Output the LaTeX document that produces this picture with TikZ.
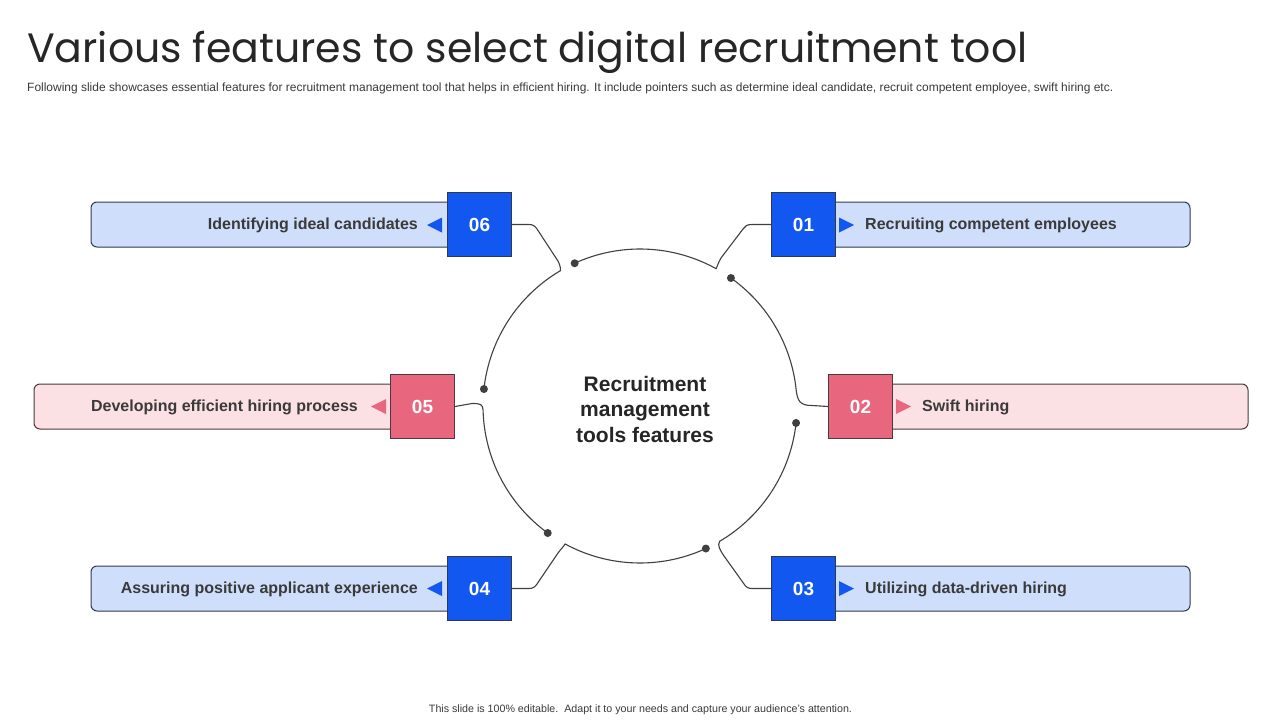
\documentclass[tikz,border=0pt]{standalone}
\usepackage{fontspec}
\setmainfont{Liberation Sans}
\newfontfamily\titlefont{Poppins}
\usetikzlibrary{calc}
\definecolor{sqblue}{HTML}{1258F0}
\definecolor{barblue}{HTML}{CFDFFB}
\definecolor{sqpink}{HTML}{E8677F}
\definecolor{barpink}{HTML}{FBE0E4}
\definecolor{edgeblue}{HTML}{2E3A4E}
\definecolor{edgepink}{HTML}{4A3A3E}
\definecolor{txt}{HTML}{3A3A3A}
\definecolor{wire}{HTML}{404040}
\tikzset{
  barb/.style={draw=edgeblue, fill=barblue, rounded corners=6, line width=1},
  barp/.style={draw=edgepink, fill=barpink, rounded corners=6, line width=1},
  sqb/.style={draw=edgeblue, fill=sqblue, minimum size=64, inner sep=0, line width=1,
    text=white, font=\fontsize{19}{22}\selectfont\bfseries},
  sqp/.style={draw=edgepink, fill=sqpink, minimum size=64, inner sep=0, line width=1,
    text=white, font=\fontsize{19}{22}\selectfont\bfseries},
  lbl/.style={text=txt, font=\fontsize{16}{19}\selectfont\bfseries, inner sep=0},
  dotn/.style={circle, fill=wire, minimum size=8, inner sep=0},
  wireln/.style={draw=wire, line width=1.1},
}
\begin{document}
\begin{tikzpicture}[x=1pt, y=1pt]
\path[use as bounding box, fill=white] (0,0) rectangle (1280,-720);

% title and texts
\node[anchor=base west, inner sep=0, text=black!85] (title) at (27,-62)
  {\titlefont\fontsize{41}{48}\selectfont Various features to select digital recruitment tool};
\node[anchor=base west, inner sep=0, text=txt] (sub) at (27,-91)
  {\resizebox{1086pt}{!}{\fontsize{11}{13}\selectfont Following slide showcases essential features for recruitment management tool that helps in efficient hiring. It include pointers such as determine ideal candidate, recruit competent employee, swift hiring etc.}};
\node[anchor=base, inner sep=0, text=txt] (foot) at (640.5,-712)
  {\resizebox{423pt}{!}{\fontsize{10}{12}\selectfont This slide is 100\% editable.\ \ Adapt it to your needs and capture your audience's attention.}};

% bars
\path[barb] (800,-202) rectangle (1190,-247);
\path[barp] (860,-384) rectangle (1248,-429);
\path[barb] (800,-566) rectangle (1190,-611);
\path[barb] (91,-202) rectangle (480,-247);
\path[barp] (34,-384) rectangle (420,-429);
\path[barb] (91,-566) rectangle (480,-611);

% squares
\node[sqb] (b01) at (803.5,-224.5) {01};
\node[sqp] (b02) at (860.5,-406.5) {02};
\node[sqb] (b03) at (803.5,-588.5) {03};
\node[sqb] (b04) at (479.5,-588.5) {04};
\node[sqp] (b05) at (422.5,-406.5) {05};
\node[sqb] (b06) at (479.5,-224.5) {06};

% triangles
\fill[sqblue] (839,-217.5) -- (854,-225) -- (839,-232.5) -- cycle;
\fill[sqpink] (896,-399) -- (911,-406.5) -- (896,-414) -- cycle;
\fill[sqblue] (839,-581) -- (854,-588.5) -- (839,-596) -- cycle;
\fill[sqblue] (442,-217.5) -- (427,-225) -- (442,-232.5) -- cycle;
\fill[sqpink] (386,-399) -- (371,-406.5) -- (386,-414) -- cycle;
\fill[sqblue] (442,-581) -- (427,-588.5) -- (442,-596) -- cycle;

% labels
\node[lbl, anchor=west] (t01) at (865,-225.5) {Recruiting competent employees};
\node[lbl, anchor=west] (t02) at (922,-407.5) {Swift hiring};
\node[lbl, anchor=west] (t03) at (865,-589.5) {Utilizing data-driven hiring};
\node[lbl, anchor=east] (t06) at (418,-225.5) {Identifying ideal candidates};
\node[lbl, anchor=east] (t05) at (358,-407.5) {Developing efficient hiring process};
\node[lbl, anchor=east] (t04) at (418,-589.5) {Assuring positive applicant experience};

% circle
\coordinate (C) at (640,-406);
\node[align=center, text=black!85, font=\fontsize{21}{25.5}\selectfont\bfseries] (center) at (645,-409)
  {Recruitment\\management\\tools features};

\node[dotn] (d1) at ($(C)+(114.6:157)$) {};
\node[dotn] (d2) at ($(C)+(54.6:157)$) {};
\node[dotn] (d3) at ($(C)+(-6.2:157)$) {};
\node[dotn] (d4) at ($(C)+(-65.2:157)$) {};
\node[dotn] (d5) at ($(C)+(-126:157)$) {};
\node[dotn] (d6) at ($(C)+(173.8:157)$) {};

\draw[wireln] (d1.center) arc[start angle=114.6, end angle=61, radius=157]
  .. controls (717,-267) and (718.5,-262) .. (721,-258) -- (743,-229)
  .. controls (745,-226) and (747,-224.5) .. (752,-224.5) -- (b01.west);
\draw[wireln] (d2.center) arc[start angle=54.6, end angle=5.8, radius=157]
  .. controls (797.5,-401) and (800,-405.5) .. (812,-405.5) -- (b02.west);
\draw[wireln] (d3.center) arc[start angle=-6.2, end angle=-59.5, radius=157]
  .. controls (717,-545) and (720,-550) .. (724,-556) -- (744,-584)
  .. controls (746,-587) and (748,-588.5) .. (752,-588.5) -- (b03.west);
\draw[wireln] (d4.center) arc[start angle=-65.2, end angle=-118.5, radius=157]
  .. controls (564,-546) and (561,-549) .. (558,-553) -- (537,-584)
  .. controls (535,-587) and (533,-588.5) .. (529,-588.5) -- (b04.east);
\draw[wireln] (d5.center) arc[start angle=-126, end angle=-178.5, radius=157]
  .. controls (483,-404) and (480,-403.5) .. (472,-403.5) -- (b05.east);
\draw[wireln] (d6.center) arc[start angle=173.8, end angle=120.5, radius=157]
  .. controls (561,-267) and (559,-262) .. (556,-258) -- (537,-229)
  .. controls (535,-226) and (533,-224.5) .. (529,-224.5) -- (b06.east);
\end{tikzpicture}
\end{document}
